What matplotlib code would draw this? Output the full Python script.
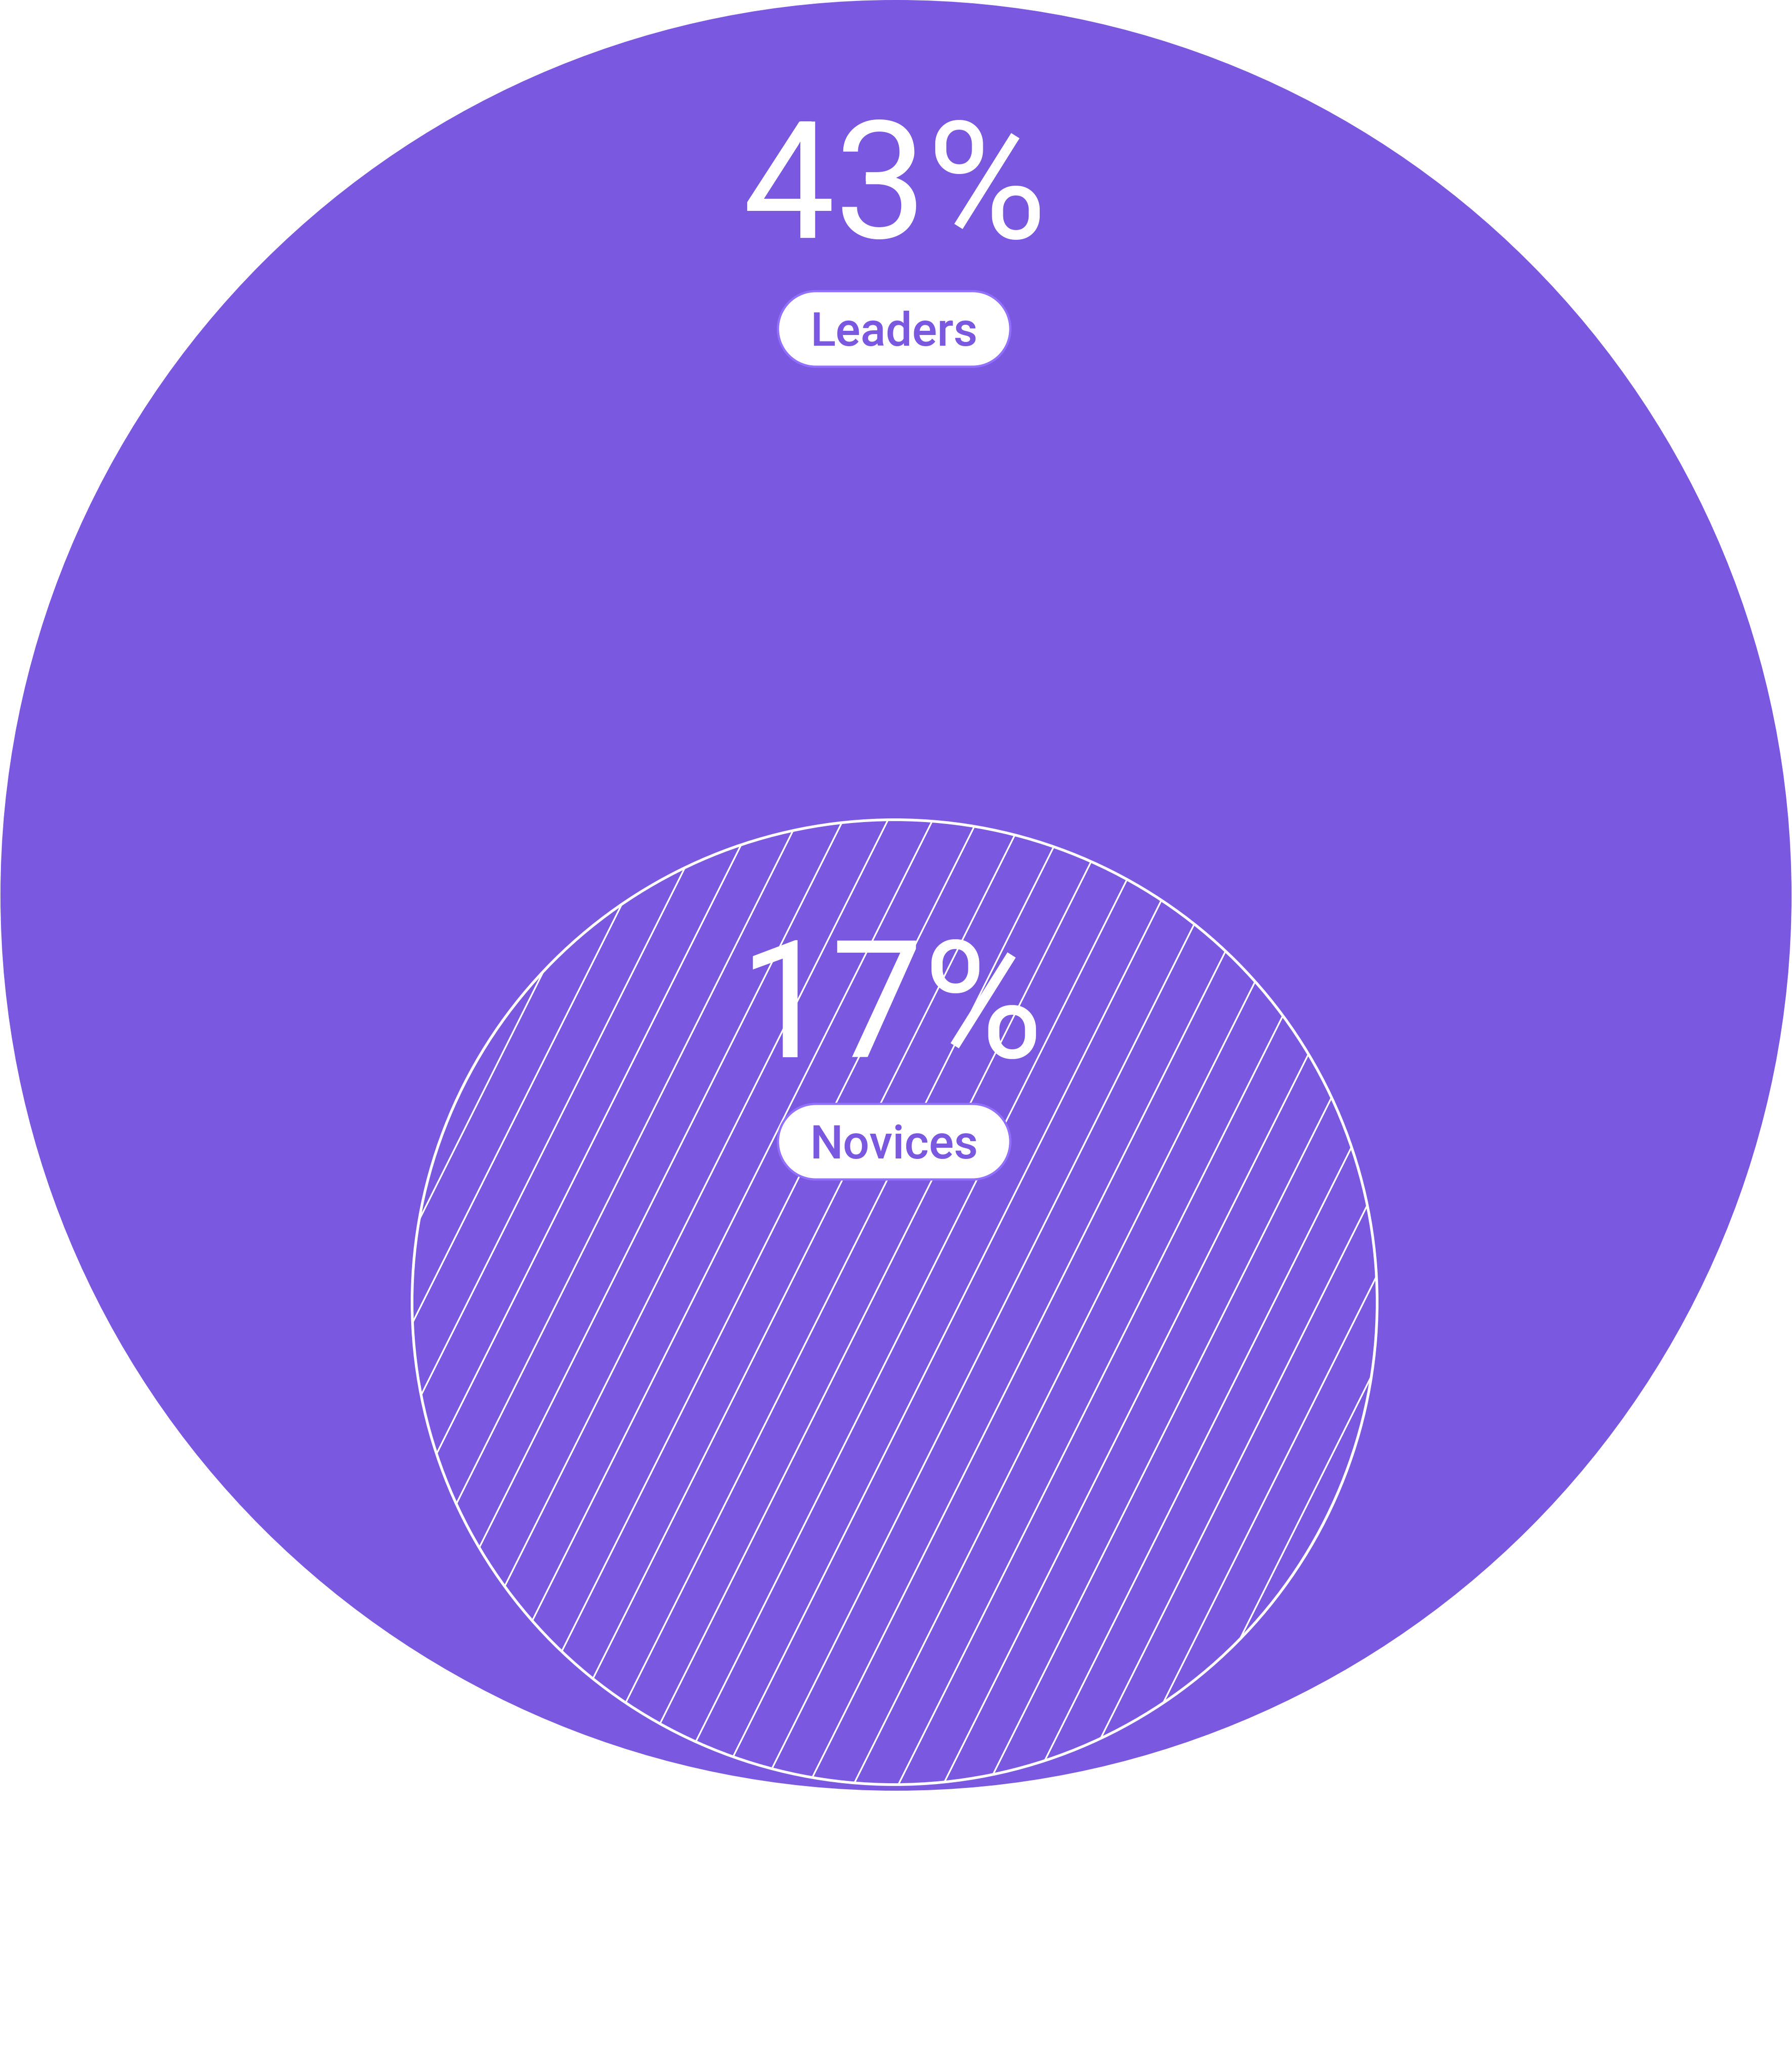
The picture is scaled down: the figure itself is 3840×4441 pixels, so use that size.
import numpy as np
import matplotlib
matplotlib.use("Agg")
import matplotlib.pyplot as plt
from matplotlib.patches import Circle, Polygon

# data
groups = ["Leaders", "Novices"]
shares = [43, 17]

W, H = 3840, 4441
purple = "#7a58e0"
pill_edge = "#9270ff"

plt.rcParams["font.family"] = ["Roboto", "DejaVu Sans"]

fig = plt.figure(figsize=(W / 100, H / 100), dpi=100)
ax = fig.add_axes([0, 0, 1, 1])
ax.set_xlim(0, W)
ax.set_ylim(H, 0)
ax.set_aspect("equal")
ax.axis("off")


def pill_shape(xc, yc, w, h):
    # stadium outline: two half circles joined by straight edges
    rr = h / 2
    t = np.linspace(-np.pi / 2, np.pi / 2, 60)
    right = np.column_stack([xc + w / 2 - rr + rr * np.cos(t), yc + rr * np.sin(t)])
    left = np.column_stack([xc - w / 2 + rr - rr * np.cos(t), yc - rr * np.sin(t)])
    return np.vstack([right, left])


# big circle (leaders)
big = Circle((1920, 1919), 1919, facecolor=purple, edgecolor="none")
ax.add_patch(big)

# small circle (novices), hatched with thin white lines
cx, cy, r = 1917, 2791, 1034
small = Circle((cx, cy), r, facecolor=purple, edgecolor="none", zorder=2)
ax.add_patch(small)
clip = Circle((cx, cy), r, transform=ax.transData, facecolor="none", edgecolor="none")
ax.add_patch(clip)
step = 96
slope = 2.0
ys = np.array([cy - r - 50, cy + r + 50])
for k in range(-30, 45):
    x0 = 906 + step * k
    xs = x0 - (ys - cy) / slope
    ln, = ax.plot(xs, ys, color="white", lw=2.6, zorder=3, solid_capstyle="butt")
    ln.set_clip_path(clip)
ax.add_patch(Circle((cx, cy), r, facecolor="none", edgecolor="white", lw=4.2, zorder=4))

# labels
label_pos = [(1918, 510, 705), (1910, 2266, 2447)]
for name, val, (x, y_num, y_pill) in zip(groups, shares, label_pos):
    ax.text(x, y_num, f"{val}%", color="white", fontsize=253, ha="center",
            va="baseline", zorder=5)
    pill = Polygon(pill_shape(1916, y_pill, 498, 162), closed=True,
                   facecolor="white", edgecolor=pill_edge, lw=3.5, zorder=5)
    ax.add_patch(pill)
    ax.text(1916, y_pill + 36, name, color=purple, fontsize=72, fontweight="medium",
            ha="center", va="baseline", zorder=6)

fig.savefig("out.png", dpi=100, facecolor="white")
